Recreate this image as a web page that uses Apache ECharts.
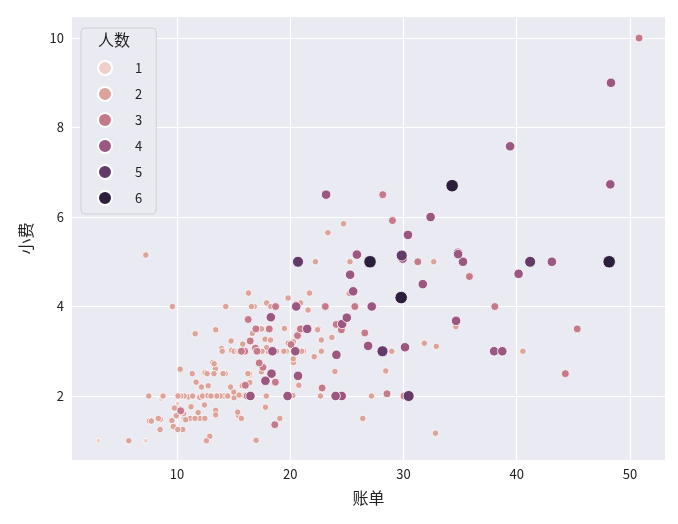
<!DOCTYPE html>
<html><head><meta charset="utf-8">
<script src="https://cdn.jsdelivr.net/npm/echarts@6/dist/echarts.min.js"></script>
<style>html,body{margin:0;background:#fff}#c{width:678px;height:524px}</style>
</head><body><div id="c"></div>
<script>
// 账单
const bill = [16.99,10.34,21.01,23.68,24.59,25.29,8.77,26.88,15.04,14.78,10.27,35.26,15.42,18.43,14.83,21.58,10.33,16.29,16.97,20.65,17.92,20.29,15.77,39.42,19.82,17.81,13.37,12.69,21.7,19.65,9.55,18.35,15.06,20.69,17.78,24.06,16.31,16.93,18.69,31.27,16.04,17.46,13.94,9.68,30.4,18.29,22.23,32.4,28.55,18.04,12.54,10.29,34.81,9.94,25.56,19.49,38.01,26.41,11.24,48.27,20.29,13.81,11.02,18.29,17.59,20.08,16.45,3.07,20.23,15.01,12.02,17.07,26.86,25.28,14.73,10.51,17.92,27.2,22.76,17.29,19.44,16.66,10.07,32.68,15.98,34.83,13.03,18.28,24.71,21.16,28.97,22.49,5.75,16.32,22.75,40.17,27.28,12.03,21.01,12.46,11.35,15.38,44.3,22.42,20.92,15.36,20.49,25.21,18.24,14.31,14.0,7.25,38.07,23.95,25.71,17.31,29.93,10.65,12.43,24.08,11.69,13.42,14.26,15.95,12.48,29.8,8.52,14.52,11.38,22.82,19.08,20.27,11.17,12.26,18.26,8.51,10.33,14.15,16.0,13.16,17.47,34.3,41.19,27.05,16.43,8.35,18.64,11.87,9.78,7.51,14.07,13.13,17.26,24.55,19.77,29.85,48.17,25.0,13.39,16.49,21.5,12.66,16.21,13.81,17.51,24.52,20.76,31.71,10.59,10.63,50.81,15.81,7.25,31.85,16.82,32.9,17.89,14.48,9.6,34.63,34.65,23.33,45.35,23.17,40.55,20.69,20.9,30.46,18.15,23.1,15.69,19.81,28.44,15.48,16.58,7.56,10.34,43.11,13.0,13.51,18.71,12.74,13.0,16.4,20.53,16.47,26.59,38.73,24.27,12.76,30.06,25.89,48.33,13.27,28.17,12.9,28.15,11.59,7.74,30.14,12.16,13.42,8.58,15.98,13.42,16.27,10.09,20.45,13.28,22.12,24.01,15.69,11.61,10.77,15.53,10.07,12.6,32.83,35.83,29.03,27.18,22.67,17.82,18.78];
// 小费
const tip = [1.01,1.66,3.5,3.31,3.61,4.71,2.0,3.12,1.96,3.23,1.71,5.0,1.57,3.0,3.02,3.92,1.67,3.71,3.5,3.35,4.08,2.75,2.23,7.58,3.18,2.34,2.0,2.0,4.3,3.0,1.45,2.5,3.0,2.45,3.27,3.6,2.0,3.07,2.31,5.0,2.24,2.54,3.06,1.32,5.6,3.0,5.0,6.0,2.05,3.0,2.5,2.6,5.2,1.56,4.34,3.51,3.0,1.5,1.76,6.73,3.21,2.0,1.98,3.76,2.64,3.15,2.47,1.0,2.01,2.09,1.97,3.0,3.14,5.0,2.2,1.25,3.08,4.0,3.0,2.71,3.0,3.4,1.83,5.0,2.03,5.17,2.0,4.0,5.85,3.0,3.0,3.5,1.0,4.3,3.25,4.73,4.0,1.5,3.0,1.5,2.5,3.0,2.5,3.48,4.08,1.64,4.06,4.29,3.76,4.0,3.0,1.0,4.0,2.55,4.0,3.5,5.07,1.5,1.8,2.92,2.31,1.68,2.5,2.0,2.52,4.2,1.48,2.0,2.0,2.18,1.5,2.83,1.5,2.0,3.25,1.25,2.0,2.0,2.0,2.75,3.5,6.7,5.0,5.0,2.3,1.5,1.36,1.63,1.73,2.0,2.5,2.0,2.74,2.0,2.0,5.14,5.0,3.75,2.61,2.0,3.5,2.5,2.0,2.0,3.0,3.48,2.24,4.5,1.61,2.0,10.0,3.16,5.15,3.18,4.0,3.11,2.0,2.0,4.0,3.55,3.68,5.65,3.5,6.5,3.0,5.0,3.5,2.0,3.5,4.0,1.5,4.19,2.56,2.02,4.0,1.44,2.0,5.0,2.0,2.0,4.0,2.01,2.0,2.5,4.0,3.23,3.41,3.0,2.03,2.23,2.0,5.16,9.0,2.5,6.5,1.1,3.0,1.5,1.44,3.09,2.2,3.48,1.92,3.0,1.58,2.5,2.0,3.0,2.72,2.88,2.0,3.0,3.39,1.47,3.0,1.25,1.0,1.17,4.67,5.92,2.0,2.0,1.75,3.0];
// 人数
const size = [2,3,3,2,4,4,2,4,2,2,2,4,2,4,2,2,3,3,3,3,2,2,2,4,2,4,2,2,2,2,2,4,2,4,2,3,3,3,3,3,3,2,2,2,4,2,2,4,3,2,2,2,4,2,4,2,4,2,2,4,2,2,2,4,3,3,2,1,2,2,2,3,2,2,2,2,2,4,2,2,2,2,1,2,2,4,2,2,2,2,2,2,2,2,2,4,2,2,2,2,2,2,3,2,2,2,2,2,2,2,2,1,3,2,3,2,4,2,2,4,2,2,2,2,2,6,2,2,2,3,2,2,2,2,2,2,2,2,2,2,2,6,5,6,2,2,3,2,2,2,2,2,3,4,4,5,6,4,2,4,4,2,3,2,2,3,2,4,2,2,3,2,2,2,2,2,2,2,2,2,4,2,3,4,2,5,3,5,3,3,2,2,2,2,2,2,2,4,2,2,3,2,2,2,4,3,3,4,2,2,3,4,4,2,3,2,5,2,2,4,2,2,1,3,2,2,2,4,2,2,4,3,2,2,2,2,2,2,3,3,2,2,2,2];
const groups = [1,2,3,4,5,6];
const xTicks = [10,20,30,40,50];
const yTicks = [2,4,6,8,10];
const colors = ['#efd0c9','#dca39b','#c47a8a','#9c5780','#643a69','#2d1e3e'];
const dotSize = [5,6.5,8,9.5,11,12.5];

const font = '"Noto Sans CJK SC", sans-serif';
const series = groups.map((g, k) => ({
  name: String(g), type: 'scatter', symbolSize: dotSize[k],
  itemStyle: { color: colors[k], borderColor: '#fff', borderWidth: 0.8, opacity: 1 },
  data: bill.map((b, i) => [b, tip[i], size[i]]).filter(d => d[2] === g)
}));

const chart = echarts.init(document.getElementById('c'));
chart.setOption({
  animation: false,
  grid: { left: 72, right: 13, top: 17, bottom: 64, backgroundColor: '#eaeaf2', show: true, borderWidth: 0 },
  xAxis: {
    type: 'value', min: 0.73, max: 53.1, name: '账单', nameLocation: 'middle', nameGap: 30,
    nameTextStyle: { fontFamily: font, fontSize: 16, color: '#222' },
    axisLine: { show: false }, axisTick: { show: false, customValues: xTicks },
    axisLabel: { fontFamily: font, fontSize: 13, color: '#222', customValues: xTicks },
    splitLine: { lineStyle: { color: '#fff', width: 1.2 } }
  },
  yAxis: {
    type: 'value', min: 0.57, max: 10.47, name: '小费', nameLocation: 'middle', nameGap: 38,
    nameTextStyle: { fontFamily: font, fontSize: 16, color: '#222' },
    axisLine: { show: false }, axisTick: { show: false, customValues: yTicks },
    axisLabel: { fontFamily: font, fontSize: 13, color: '#222', customValues: yTicks },
    splitLine: { lineStyle: { color: '#fff', width: 1.2 } }
  },
  legend: {
    orient: 'vertical', left: 81, top: 28, data: groups.map(String),
    backgroundColor: '#eaeaf2', borderColor: '#cfcfd6', borderWidth: 1, borderRadius: 4,
    padding: [32, 14, 8, 16], itemGap: 10, itemWidth: 14, itemHeight: 14,
    textStyle: { fontFamily: font, fontSize: 13, color: '#222', padding: [0, 0, 0, 18] }
  },
  graphic: [{ type: 'text', left: 98, top: 32, z: 100, style: { text: '人数', font: '16px ' + font, fill: '#222' } }],
  series
});
</script></body></html>
